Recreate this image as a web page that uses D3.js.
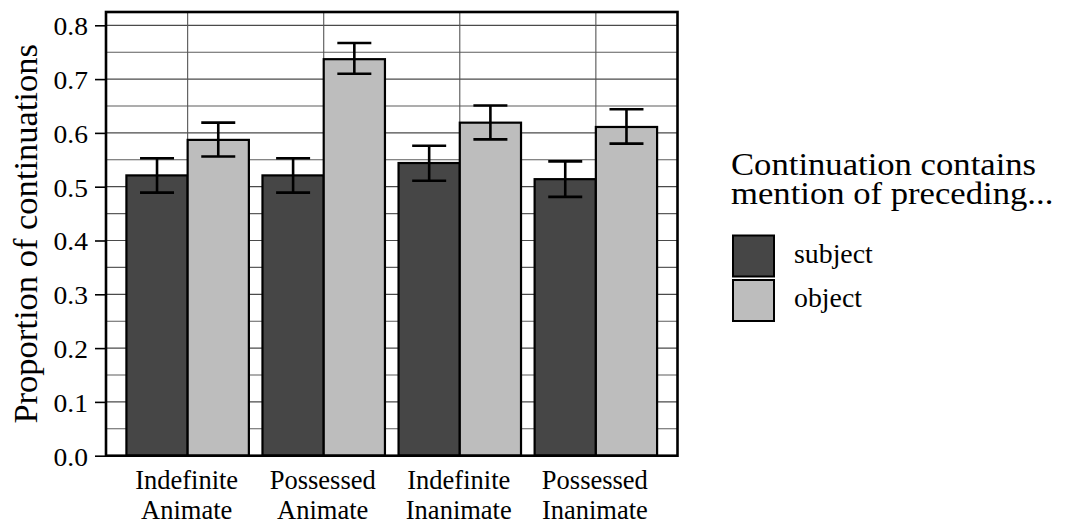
<!DOCTYPE html>
<html>
<head>
<meta charset="utf-8">
<script src="https://cdn.jsdelivr.net/npm/d3@7"></script>
<style>
  html, body { margin: 0; padding: 0; background: #ffffff; }
  svg { display: block; }
  text { font-family: "Liberation Serif", "Times New Roman", Times, serif; fill: #000; }
</style>
</head>
<body>
<svg id="chart" width="1069" height="525"></svg>
<script>
// ---- data ----
const categoriesLine1 = ["Indefinite", "Possessed", "Indefinite", "Possessed"];
const categoriesLine2 = ["Animate", "Animate", "Inanimate", "Inanimate"];
const categories = ["Indefinite Animate", "Possessed Animate", "Indefinite Inanimate", "Possessed Inanimate"];
const seriesNames = ["subject", "object"];
const subjectValues = [0.521, 0.521, 0.544, 0.514];
const subjectLow    = [0.489, 0.489, 0.511, 0.481];
const subjectHigh   = [0.553, 0.553, 0.576, 0.547];
const objectValues  = [0.587, 0.737, 0.619, 0.611];
const objectLow     = [0.556, 0.710, 0.588, 0.580];
const objectHigh    = [0.619, 0.767, 0.651, 0.644];
const yTicks = [0.0, 0.1, 0.2, 0.3, 0.4, 0.5, 0.6, 0.7, 0.8];
const yMinorTicks = [0.05, 0.15, 0.25, 0.35, 0.45, 0.55, 0.65, 0.75];
const yTitle = "Proportion of continuations";
const legendTitle = ["Continuation contains", "mention of preceding..."];

const colors = { subject: "#464646", object: "#bdbdbd" };

// ---- layout ----
const svg = d3.select("#chart");
const panel = { left: 106, top: 12, right: 677.5, bottom: 455.7 };

const y = d3.scaleLinear().domain([0, 0.8247]).range([panel.bottom, panel.top]);
const x = d3.scalePoint().domain(categories).range([panel.left, panel.right]).padding(0.6);
const step = x.step();
const barW = step * 0.45;
const capHalf = 17;

function stretch(sel, f) {
  sel.each(function() {
    const len = this.getComputedTextLength();
    d3.select(this).attr("textLength", len * f).attr("lengthAdjust", "spacingAndGlyphs");
  });
}

// panel background
svg.append("rect")
  .attr("x", panel.left).attr("y", panel.top)
  .attr("width", panel.right - panel.left).attr("height", panel.bottom - panel.top)
  .attr("fill", "#ffffff");

// gridlines
const grid = svg.append("g");
grid.selectAll("line.minor").data(yMinorTicks).join("line")
  .attr("x1", panel.left).attr("x2", panel.right)
  .attr("y1", d => y(d)).attr("y2", d => y(d))
  .attr("stroke", "#5c5c5c").attr("stroke-width", 1.1);
grid.selectAll("line.major").data(yTicks).join("line")
  .attr("x1", panel.left).attr("x2", panel.right)
  .attr("y1", d => y(d)).attr("y2", d => y(d))
  .attr("stroke", "#4a4a4a").attr("stroke-width", 1.2);
grid.selectAll("line.vert").data(categories).join("line")
  .attr("x1", d => x(d)).attr("x2", d => x(d))
  .attr("y1", panel.top).attr("y2", panel.bottom)
  .attr("stroke", "#555555").attr("stroke-width", 1.1);

// bars
const rows = categories.map((c, i) => ([
  { cat: c, s: "subject", v: subjectValues[i], lo: subjectLow[i], hi: subjectHigh[i], off: -1 },
  { cat: c, s: "object",  v: objectValues[i],  lo: objectLow[i],  hi: objectHigh[i],  off: 0 }
])).flat();

svg.append("g").selectAll("rect").data(rows).join("rect")
  .attr("x", d => x(d.cat) + d.off * barW)
  .attr("y", d => y(d.v))
  .attr("width", barW)
  .attr("height", d => y(0) - y(d.v))
  .attr("fill", d => colors[d.s])
  .attr("stroke", "#000").attr("stroke-width", 2.2);

// error bars
const eb = svg.append("g").attr("stroke", "#000").attr("stroke-width", 2.6).attr("fill", "none");
rows.forEach(d => {
  const cx = x(d.cat) + d.off * barW + barW / 2;
  eb.append("line").attr("x1", cx).attr("x2", cx).attr("y1", y(d.lo)).attr("y2", y(d.hi));
  eb.append("line").attr("x1", cx - capHalf).attr("x2", cx + capHalf).attr("y1", y(d.lo)).attr("y2", y(d.lo));
  eb.append("line").attr("x1", cx - capHalf).attr("x2", cx + capHalf).attr("y1", y(d.hi)).attr("y2", y(d.hi));
});

// panel border
svg.append("rect")
  .attr("x", panel.left).attr("y", panel.top)
  .attr("width", panel.right - panel.left).attr("height", panel.bottom - panel.top)
  .attr("fill", "none").attr("stroke", "#000").attr("stroke-width", 2.6);

// y axis
const yAxis = svg.append("g")
  .attr("transform", `translate(${panel.left},0)`)
  .call(d3.axisLeft(y).tickValues(yTicks).tickFormat(d3.format(".1f")).tickSize(11).tickPadding(7));
yAxis.select(".domain").remove();
yAxis.selectAll(".tick line").attr("stroke", "#000").attr("stroke-width", 1.6);
yAxis.selectAll(".tick text")
  .attr("dy", null).attr("y", 9.5)
  .style("font-family", '"Liberation Serif", "Times New Roman", serif')
  .style("font-size", "25.5px").attr("fill", "#000");
stretch(yAxis.selectAll(".tick text"), 1.08);

// x labels
const xl = svg.append("g");
categories.forEach((c, i) => {
  xl.append("text").attr("x", x(c) - 1).attr("y", 489).attr("text-anchor", "middle")
    .style("font-size", "26.5px").text(categoriesLine1[i]);
  xl.append("text").attr("x", x(c) - 1).attr("y", 518.5).attr("text-anchor", "middle")
    .style("font-size", "26.5px").text(categoriesLine2[i]);
});

// y title
svg.append("text")
  .attr("transform", `translate(36.5,${(panel.top + panel.bottom) / 2}) rotate(-90)`)
  .attr("text-anchor", "middle")
  .style("font-size", "34.5px")
  .text(yTitle);

// legend
const lg = svg.append("g");
const lt = lg.selectAll("text.title").data(legendTitle).join("text")
  .attr("x", 731).attr("y", (d, i) => 175 + i * 28.5)
  .style("font-size", "31.5px").text(d => d);
stretch(lt, 1.1);

const keyX = 733, keyY0 = 235.5, keySize = 41, keyGap = 3.5;
seriesNames.forEach((s, i) => {
  const ky = keyY0 + i * (keySize + keyGap);
  lg.append("rect").attr("x", keyX).attr("y", ky).attr("width", keySize).attr("height", keySize)
    .attr("fill", colors[s]).attr("stroke", "#000").attr("stroke-width", 2);
  const t = lg.append("text").attr("x", 794).attr("y", ky + keySize / 2 + 6.5)
    .style("font-size", "27px").text(s);
  stretch(t, 1.03);
});
</script>
</body>
</html>
